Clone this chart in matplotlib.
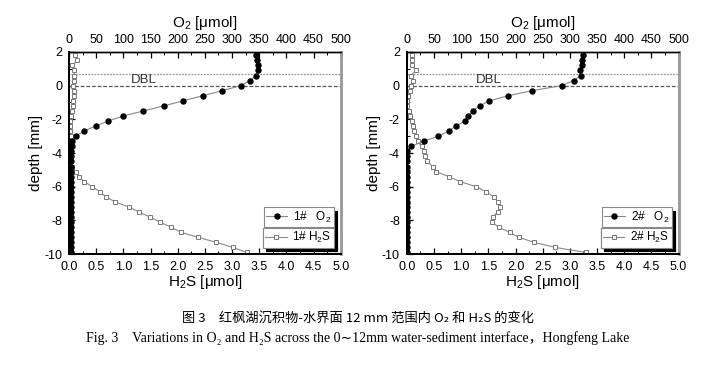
"""Hongfeng Lake microprofiles: O2 and H2S across the sediment-water interface (two cores)."""
import matplotlib
matplotlib.use('Agg')
import matplotlib.pyplot as plt
from matplotlib.ticker import MultipleLocator

plt.rcParams['font.family'] = ['Liberation Sans', 'DejaVu Sans']
plt.rcParams['mathtext.default'] = 'regular'
plt.rcParams['axes.unicode_minus'] = False

# depth of each measurement, mm (positive = water column)
depth = [1.8, 1.5, 1.2, 0.9, 0.6, 0.3, 0.0, -0.3, -0.6, -0.9,
         -1.2, -1.5, -1.8, -2.1, -2.4, -2.7, -3.0, -3.3, -3.6, -3.9,
         -4.2, -4.5, -4.8, -5.1, -5.4, -5.7, -6.0, -6.3, -6.6, -6.9,
         -7.2, -7.5, -7.8, -8.1, -8.4, -8.7, -9.0, -9.3, -9.6, -9.9]

o2_core1 = [344, 346, 347, 348, 345, 333, 316, 282, 246, 210,
            175, 137, 100, 72, 49, 27, 13, 5, 5, 4,
            4, 4, 4, 4, 4, 4, 4, 4, 4, 4,
            4, 4, 4, 4, 4, 4, 4, 4, 4, 4]
h2s_core1 = [0.11, 0.15, 0.06, 0.10, 0.10, 0.10, 0.08, 0.09, 0.10, 0.08,
             0.07, 0.05, 0.03, 0.02, 0.02, 0.02, 0.03, 0.03, 0.03, 0.03,
             0.03, 0.04, 0.06, 0.12, 0.18, 0.28, 0.43, 0.57, 0.68, 0.85,
             1.10, 1.29, 1.49, 1.67, 1.88, 2.06, 2.37, 2.71, 3.01, 3.28]

o2_core2 = [324, 323, 322, 318, 320, 307, 285, 230, 186, 152,
            134, 121, 113, 107, 90, 77, 58, 31, 8, 1,
            1, 1, 1, 1, 1, 1, 1, 1, 1, 1,
            1, 1, 1, 1, 1, 1, 1, 1, 1, 1]
h2s_core2 = [0.09, 0.09, 0.09, 0.17, 0.07, 0.12, 0.08, 0.05, 0.03, 0.01,
             0.01, 0.04, 0.06, 0.09, 0.11, 0.14, 0.17, 0.20, 0.27, 0.31,
             0.34, 0.37, 0.48, 0.54, 0.77, 0.98, 1.28, 1.46, 1.60, 1.68,
             1.72, 1.67, 1.58, 1.57, 1.69, 1.89, 2.06, 2.34, 2.73, 3.29]

cores = ['1#', '2#']
dbl_top = 0.7
swi = 0.0

caption_cn = '图 3　红枫湖沉积物-水界面 12 mm 范围内 O₂ 和 H₂S 的变化'
caption_en = ('Fig. 3　Variations in O₂ and H₂S across the 0∼12mm '
              'water-sediment interface，Hongfeng Lake')


def panel(fig, rect, core, o2, h2s, dbl_x):
    ax = fig.add_axes(rect)
    ax.plot(h2s, depth, color='#8a8a8a', lw=0.8, marker='s', ms=3.4,
            mfc='white', mec='#777777', mew=0.7, zorder=3)
    ax.set_xlim(0, 5)
    ax.set_ylim(-10, 2)
    ax.xaxis.set_major_locator(MultipleLocator(0.5))
    ax.xaxis.set_minor_locator(MultipleLocator(0.25))
    ax.yaxis.set_major_locator(MultipleLocator(2))
    ax.yaxis.set_minor_locator(MultipleLocator(1))
    ax.set_xlabel('H$_2$S [μmol]', fontsize=11, labelpad=0)
    ax.set_ylabel('depth [mm]', fontsize=11, labelpad=1)

    top = ax.twiny()
    top.plot(o2, depth, color='#8a8a8a', lw=0.8, marker='o', ms=3.6,
             mfc='black', mec='black', zorder=4)
    top.set_xlim(0, 500)
    top.xaxis.set_major_locator(MultipleLocator(50))
    top.xaxis.set_minor_locator(MultipleLocator(25))
    top.set_xlabel('O$_2$ [μmol]', fontsize=11, labelpad=5)

    for a in (ax, top):
        a.tick_params(which='both', direction='in', labelsize=9)
        a.tick_params(which='major', length=4, width=0.9)
        a.tick_params(which='minor', length=2, width=0.7)
        for s in ('left', 'bottom'):
            a.spines[s].set_linewidth(1.4)
        a.spines['top'].set_linewidth(1.0)
        a.spines['right'].set_color('#9a9a9a')
        a.spines['right'].set_linewidth(1.8)
    ax.tick_params(axis='x', pad=5)
    ax.tick_params(axis='y', pad=5)
    top.tick_params(axis='x', pad=4)

    ax.axhline(dbl_top, color='#9a9a9a', lw=0.9, ls=(0, (1.5, 1.0)), zorder=2)
    ax.axhline(swi, color='#555555', lw=0.9, ls=(0, (3, 1.5)), zorder=2)
    top.text(dbl_x, (dbl_top + swi) / 2, 'DBL', fontsize=9.5, ha='center',
             va='center', color='#333333')

    h_o2 = top.lines[0]
    h_h2s = ax.lines[0]
    for handle, label, anchor in ((h_o2, f'{core}   O$_2$', 0.232),
                                  (h_h2s, f'{core} H$_2$S', 0.13)):
        leg = top.legend([handle], [label], loc='upper right',
                         bbox_to_anchor=(0.975, anchor), fontsize=8.5,
                         frameon=True, fancybox=False, handlelength=1.8,
                         handletextpad=0.5, borderpad=0.2, borderaxespad=0.0,
                         shadow={'color': 'black', 'alpha': 1.0, 'ox': 2.5, 'oy': -2.5})
        leg.get_frame().set_edgecolor('#888888')
        leg.get_frame().set_linewidth(0.8)
        top.add_artist(leg)
    return ax


fig = plt.figure(figsize=(7.15, 3.71), dpi=100)
panel(fig, [0.0965, 0.315, 0.380, 0.545], cores[0], o2_core1, h2s_core1, 138)
panel(fig, [0.569, 0.315, 0.380, 0.545], cores[1], o2_core2, h2s_core2, 151)

fig.text(0.5, 1 - 318 / 371, caption_cn, ha='center', va='center',
         fontsize=9.5, family=['Noto Sans CJK SC', 'DejaVu Sans'])
fig.text(0.5, 1 - 338 / 371, caption_en, ha='center', va='center',
         fontsize=10, family=['Liberation Serif', 'Noto Sans CJK SC', 'DejaVu Serif'])

fig.savefig('out.png', dpi=100)
